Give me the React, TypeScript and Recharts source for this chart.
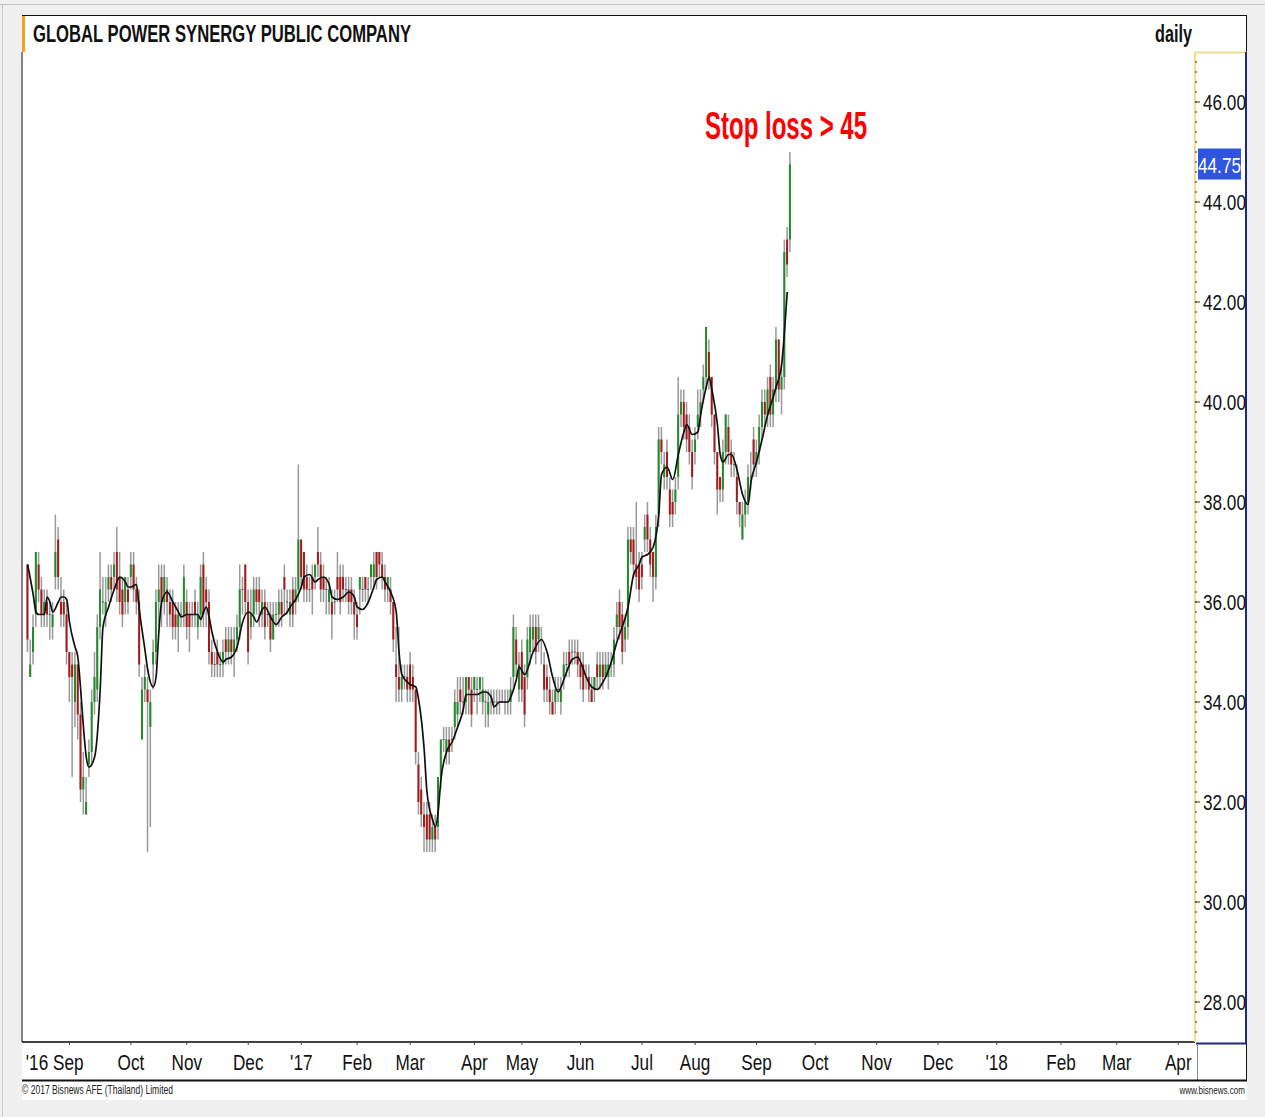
import React from "react";
import { ComposedChart, Bar, Line, XAxis, YAxis, ReferenceLine, ReferenceDot } from "recharts";

// trading-day index of the first candle (mid Aug 2016)
const firstDay = 2;

const open = [
  36.75, 34.5, 35, 35.75, 36.75, 36.25, 35.75, 36, 35.75, 35.5,
  36.5, 37.25, 36, 36, 35.75, 35, 34.75, 34, 34.75, 33.75,
  32.25, 31.75, 32.75, 33, 34, 34.25, 35.5, 36, 35.75, 36.25,
  36.5, 36.5, 37, 36.5, 36.25, 36, 36.25, 36.5, 36.75, 36.25,
  36, 33.25, 34.25, 34.25, 33.5, 34.75, 35, 36, 36.5, 36,
  36.25, 36, 36, 35.75, 35.5, 35.75, 35.75, 36, 35.75, 35.75,
  36, 35.5, 35.75, 36.75, 36.25, 36, 35, 34.75, 35, 34.75,
  34.75, 35.25, 35, 35.25, 35, 35.25, 35.5, 36.25, 36.75, 36,
  35.5, 35.75, 36.25, 36.25, 35.75, 36, 35.75, 35.75, 35.25, 35.75,
  35.75, 36, 36.5, 36, 35.75, 36.25, 36, 36.25, 37.25, 37,
  36.5, 36.25, 36.5, 36.5, 37, 36.75, 36.5, 36.25, 36, 36,
  36, 36.5, 36.5, 36.5, 36.25, 36.25, 36.25, 36, 35.75, 36.25,
  36.25, 36.5, 36.25, 36.5, 36.5, 37, 37, 36.75, 36.5, 36.25,
  36.25, 36, 34.75, 34.5, 34.25, 34.5, 34.5, 34.75, 34.5, 34.25,
  32.75, 32.25, 31.75, 31.75, 31.75, 31.25, 31.5, 31.5, 32.5, 33.25,
  33, 33.25, 33.25, 33.5, 33.75, 34.25, 34, 34, 34.5, 34.25,
  34.25, 34.25, 34.25, 34, 34, 33.75, 34, 34, 34, 34,
  34, 34, 34, 34, 34.5, 35.25, 34.25, 35, 34.5, 34.5,
  35, 35.25, 35.5, 35.25, 35.25, 34.75, 34.5, 34.25, 34, 34,
  34.25, 34, 34.5, 34.75, 35, 35, 35, 35, 34.75, 34.75,
  34.5, 34.5, 34.25, 34.25, 34.75, 34.5, 34.75, 34.5, 34.5, 34.75,
  34.75, 35.5, 36, 35.75, 35.25, 35.5, 37.25, 37.25, 36.75, 36.75,
  36.75, 37.25, 37.75, 37.25, 37, 36.5, 37.75, 39.25, 38.5, 39,
  38.25, 38, 38, 38.5, 39.75, 40, 39.75, 39.5, 39, 39,
  39.5, 39.75, 40.25, 40.5, 41, 40.5, 39.75, 39, 38.5, 38.25,
  39, 39.5, 39, 38.75, 38.5, 38, 37.25, 37.75, 38, 38.5,
  39.25, 38.75, 39, 39.5, 40, 39.75, 40.5, 39.75, 40.25, 41.25,
  40.25, 40.5, 43.25, 43.25,
];

const high = [
  36.75, 35.25, 35.75, 37, 37, 36.5, 36.25, 36.25, 36, 36,
  37.75, 37.5, 36.5, 36.25, 36, 35, 35, 35, 34.75, 34,
  33, 32.5, 33.25, 34.25, 35, 35.75, 37, 36.5, 36.5, 36.75,
  36.75, 37, 37.5, 37, 36.5, 36.5, 36.5, 37, 37, 36.5,
  36.25, 34.5, 34.75, 34.5, 34.25, 35.25, 36.25, 36.75, 36.75, 36.75,
  36.5, 36.25, 36.25, 36, 36, 36, 36.75, 36.25, 36, 36,
  36.25, 36, 36.75, 37, 36.5, 36.25, 35.25, 35, 35.25, 35,
  35.25, 35.5, 35.5, 35.5, 35.5, 35.75, 36.75, 36.5, 36.75, 36.25,
  36.25, 36.5, 36.5, 36.5, 36.25, 36.25, 36, 36, 36, 36,
  36.25, 36.25, 36.75, 36.25, 36.25, 36.5, 36.5, 38.75, 37.25, 37,
  36.75, 36.5, 36.75, 36.75, 37.5, 37, 36.75, 36.5, 36.5, 36.25,
  36.25, 37, 36.75, 36.75, 36.5, 36.5, 36.5, 36.25, 36, 36.5,
  36.5, 36.5, 36.5, 36.75, 37, 37, 37, 37, 36.75, 36.5,
  36.5, 36, 35.5, 35.5, 34.75, 34.75, 34.75, 35, 34.75, 34.25,
  33, 32.5, 32, 32, 32, 31.75, 31.75, 32.5, 33.25, 33.5,
  33.5, 33.5, 33.5, 34.25, 34.5, 34.5, 34.5, 34.5, 34.5, 34.5,
  34.5, 34.5, 34.5, 34.5, 34.25, 34.25, 34.25, 34.25, 34.25, 34.25,
  34.25, 34.25, 34.25, 34.5, 35.75, 35.5, 35, 35.25, 34.75, 35.5,
  35.75, 35.75, 35.75, 35.75, 35.5, 35, 34.75, 34.5, 34.25, 34.5,
  34.5, 34.5, 35, 35, 35.25, 35.25, 35.25, 35.25, 35, 35,
  34.75, 34.75, 34.5, 34.5, 35, 35, 35, 35, 35, 35,
  35.5, 36, 36.25, 36, 35.75, 37.5, 37.5, 37.5, 38, 37,
  37, 37.75, 38, 37.5, 37, 37.75, 39.5, 39.5, 39, 39.25,
  38.5, 38.25, 38.5, 40.5, 40.25, 40.25, 40, 39.75, 39.25, 39.5,
  40.25, 40.25, 40.75, 41.5, 41.25, 40.5, 39.75, 39, 38.5, 39.25,
  39.75, 39.75, 39.25, 39, 38.75, 38, 38, 38.25, 38.75, 39,
  39.5, 39.25, 39.75, 40.25, 40.25, 40.5, 40.75, 40.5, 41.5, 41.25,
  40.75, 43.25, 43.5, 45,
];

const low = [
  35, 34.5, 34.75, 35.5, 36, 35.5, 35.5, 35.5, 35.25, 35.25,
  36.25, 36.25, 35.5, 35.5, 34.75, 34, 32.5, 33.5, 33.25, 32,
  31.75, 31.75, 32.5, 32.75, 33.75, 34, 35.25, 35.75, 35.5, 36,
  36, 36.25, 36, 35.75, 35.5, 35.75, 35.75, 36.25, 36, 35.75,
  34.5, 33.25, 34, 31, 31.5, 34.25, 34.75, 35.5, 35.5, 35.75,
  35.5, 35.5, 35.25, 35.25, 35, 35.5, 35.5, 35.25, 35, 35.5,
  35.5, 35.25, 35.5, 35.5, 35.5, 34.75, 34.5, 34.5, 34.5, 34.5,
  34.5, 34.75, 34.75, 34.75, 34.5, 35, 35.25, 35.75, 35.75, 34.75,
  35.25, 35.5, 35.75, 35.5, 35.5, 35.25, 35.5, 35, 35.25, 35.5,
  35.5, 35.5, 35.75, 35.75, 35.5, 35.5, 35.75, 36, 36.25, 36,
  36, 36, 35.75, 36.25, 36.5, 36, 36, 35.75, 35.75, 35.25,
  35.75, 36, 35.75, 36, 36, 35.75, 35.75, 35.25, 35.25, 35.75,
  36, 36, 36, 36.25, 36.25, 36.25, 36.5, 36.25, 36, 36,
  35.75, 35, 34, 34, 34, 34.25, 34, 34, 34, 32.75,
  31.75, 31.5, 31, 31, 31, 31, 31, 31.25, 32.25, 33,
  32.75, 32.75, 33, 33.25, 33.5, 33.75, 33.75, 33.75, 33.75, 33.5,
  34, 33.75, 34, 33.75, 33.5, 33.5, 33.75, 33.75, 33.75, 33.75,
  34, 33.75, 33.75, 33.75, 34.25, 34.5, 34, 34, 33.5, 34.25,
  34.75, 35, 34.75, 35, 34.75, 34, 34, 33.75, 33.75, 33.75,
  34, 33.75, 34.25, 34.5, 34.5, 34.75, 34.75, 34.5, 34.25, 34,
  34.25, 34, 34, 34, 34.25, 34.25, 34.25, 34.5, 34.25, 34.5,
  34.5, 35.25, 35.25, 34.75, 35, 35.25, 36.75, 36.5, 36.25, 36,
  36.25, 37, 37, 36.5, 36, 36.25, 37.5, 38.75, 38.25, 38.25,
  37.5, 37.5, 37.75, 38.25, 39.5, 39.25, 39, 38.75, 38.25, 38.75,
  39.25, 39.5, 40, 40.25, 40.25, 39.5, 38.75, 37.75, 38, 38,
  38.75, 38.75, 38.5, 38.5, 37.75, 37.5, 37.25, 37.5, 37.75, 38.25,
  38.5, 38.5, 38.75, 39.25, 39.5, 39.5, 39.5, 39.5, 40, 40,
  39.75, 40.25, 42.5, 43,
];

const close = [
  35.25, 34.75, 35.5, 37, 36.25, 35.75, 36, 35.75, 35.75, 35.75,
  37, 36.5, 35.75, 35.75, 35, 34.5, 34.5, 34.75, 33.75, 32.25,
  32.5, 32, 33, 34, 34.5, 35.5, 36.25, 36, 36, 36.5,
  36.25, 36.75, 36.25, 36, 35.75, 36.5, 36, 36.75, 36.25, 36,
  34.75, 34.25, 34.5, 34, 34, 35, 36, 36.25, 36, 36.5,
  36, 35.75, 35.5, 35.5, 35.75, 35.75, 36.5, 35.5, 35.5, 35.75,
  35.75, 35.75, 36.5, 35.75, 36, 35, 34.75, 34.75, 34.75, 34.75,
  35, 35, 35.25, 35, 35.25, 35.5, 36.25, 36.25, 36, 35,
  35.75, 36.25, 36, 36, 36, 35.5, 35.75, 35.25, 35.75, 35.75,
  36, 35.75, 36.25, 36, 36, 35.75, 36.25, 37.25, 36.5, 36.25,
  36.25, 36.25, 36.25, 36.75, 36.75, 36.25, 36.25, 36.25, 36.25, 35.75,
  36, 36.25, 36, 36.25, 36.25, 36, 36, 35.75, 35.5, 36.5,
  36.25, 36.25, 36.25, 36.75, 36.75, 36.5, 36.75, 36.5, 36.25, 36.5,
  36, 35.25, 34.5, 34.25, 34.5, 34.5, 34.25, 34.25, 34.25, 33,
  32, 31.75, 31.5, 31.25, 31.25, 31.5, 31.25, 32.5, 33.25, 33.25,
  33.25, 33, 33.25, 34, 34, 34, 34, 34.5, 34.25, 33.75,
  34.5, 34.25, 34.5, 34.25, 34, 34, 34, 34, 34, 34,
  34, 34, 34, 34.25, 35.5, 34.75, 34.75, 34.25, 33.75, 35.25,
  35.5, 35.5, 35, 35.5, 35.25, 34.25, 34.25, 34, 33.75, 34.25,
  34.25, 34.25, 34.75, 34.75, 34.75, 35, 35, 34.75, 34.5, 34.25,
  34.5, 34.25, 34, 34.5, 34.5, 34.75, 34.5, 34.75, 34.75, 34.75,
  35.25, 35.75, 35.5, 35, 35.5, 37.25, 37, 36.75, 36.5, 36.25,
  36.5, 37.5, 37.25, 36.75, 36.5, 37.5, 39.25, 39, 38.75, 38.5,
  37.75, 37.75, 38.25, 39.75, 40, 39.5, 39.25, 39, 38.5, 39.25,
  39.75, 40, 40.5, 41.5, 40.5, 39.75, 39, 38.25, 38.25, 39,
  39.75, 39, 38.75, 38.75, 38, 37.75, 37.75, 38, 38.5, 38.5,
  38.75, 39, 39.5, 40, 39.75, 40.25, 39.75, 40.25, 41.25, 40.25,
  40.5, 43, 42.75, 44.75,
];

// moving average
const maDay = [
  2, 4, 5, 6, 8, 9, 10, 11, 13, 14, 15, 16, 17, 19, 20, 21, 22, 23, 24, 26,
  28, 29, 31, 33, 35, 37, 38, 39, 41, 42, 44, 45, 47, 48, 49, 50, 52, 54, 56, 57,
  59, 61, 63, 64, 65, 66, 67, 68, 70, 72, 73, 75, 77, 79, 81, 83, 84, 86, 87, 89,
  91, 93, 95, 96, 98, 100, 101, 103, 105, 106, 108, 110, 111, 113, 115, 117, 119, 120, 122, 124,
  126, 127, 129, 130, 132, 134, 135, 136, 139, 141, 142, 144, 145, 147, 148, 149, 150, 152, 154, 156,
  158, 159, 161, 163, 165, 166, 168, 169, 171, 174, 175, 177, 178, 180, 183, 186, 188, 190, 192, 193,
  195, 197, 199, 200, 202, 204, 206, 208, 209, 211, 213, 217, 219, 221, 222, 224, 226, 228, 229, 231,
  233, 235, 237, 238, 240, 242, 243, 245, 246, 247, 249, 250, 251, 253, 254, 256, 258, 260, 261, 263,
  265, 267, 269, 270, 272, 273, 274,
];
const maValue = [
  36.75, 36.15, 35.8, 35.75, 35.75, 36.1, 36.0, 35.8, 36.0, 36.1, 36.1, 36.05, 35.6, 35.1, 34.9, 34.25, 33.5, 32.9, 32.7, 32.9,
  34.25, 35.5, 35.9, 36.25, 36.5, 36.4, 36.3, 36.3, 36.35, 35.85, 35.05, 34.65, 34.3, 34.5, 35.4, 36.0, 36.2, 36.0, 35.8, 35.7,
  35.75, 35.75, 35.75, 35.65, 35.8, 35.9, 35.7, 35.4, 35.0, 34.8, 34.85, 34.9, 35.1, 35.6, 35.8, 35.7, 35.6, 35.85, 35.9, 35.7,
  35.55, 35.7, 35.8, 35.9, 36.05, 36.3, 36.5, 36.55, 36.4, 36.45, 36.5, 36.35, 36.1, 36.05, 36.1, 36.2, 36.1, 35.9, 35.85, 36.0,
  36.3, 36.45, 36.5, 36.4, 36.2, 35.8, 35.0, 34.55, 34.35, 34.3, 34.05, 33.05, 32.2, 31.65, 31.5, 31.8, 32.45, 33.0, 33.2, 33.5,
  33.85, 34.15, 34.15, 34.15, 34.2, 34.2, 34.1, 33.9, 34.0, 34.0, 34.1, 34.45, 34.7, 34.55, 35.0, 35.25, 35.0, 34.5, 34.2, 34.3,
  34.6, 34.85, 34.9, 34.8, 34.5, 34.3, 34.25, 34.4, 34.5, 34.8, 35.2, 35.9, 36.55, 36.75, 36.9, 36.95, 37.1, 37.75, 38.55, 38.7,
  38.45, 38.95, 39.4, 39.55, 39.35, 39.4, 39.75, 40.3, 40.5, 40.25, 39.55, 38.95, 38.8, 38.95, 38.95, 38.65, 38.15, 37.95, 38.4, 38.8,
  39.25, 39.75, 40.1, 40.3, 40.75, 41.4, 42.2,
];

// x axis: first trading day of each month, and its label
const monthStart = [17, 39, 59, 81, 100, 120, 139, 162, 179, 200, 222, 241, 263, 284, 306, 328, 349, 372, 392, 414];
const monthLabel = ["'16 Sep", "Oct", "Nov", "Dec", "'17", "Feb", "Mar", "Apr", "May", "Jun", "Jul", "Aug", "Sep", "Oct", "Nov", "Dec", "'18", "Feb", "Mar", "Apr"];
const priceLabels = [28, 30, 32, 34, 36, 38, 40, 42, 44, 46];

const title = "GLOBAL POWER SYNERGY PUBLIC COMPANY";
const period = "daily";
const stopLossNote = "Stop loss > 45";
const copyright = "© 2017 Bisnews AFE (Thailand) Limited";
const site = "www.bisnews.com";

const FONT = "'Liberation Sans Narrow', 'Arial Narrow', 'Liberation Sans', Arial, sans-serif";
const SQUEEZE = 0.78;

const lastDay = firstDay + close.length - 1;
const lastClose = close[close.length - 1];
const lastHigh = high[high.length - 1];

const maByDay = new Map(maDay.map((d, k) => [d, maValue[k]]));
const rows = close.map((c, k) => ({
  day: firstDay + k,
  open: open[k],
  high: high[k],
  low: low[k],
  close: c,
  range: [low[k], high[k]],
  ma: maByDay.get(firstDay + k),
}));

// minor ticks every 0.20 on the price scale
const minorTicks: number[] = [];
for (let v = 274; v <= 468; v += 2) minorTicks.push(v / 10);

// condensed text: the narrow face is not installed, so squeeze a regular one
function Narrow({ x, y, anchor = "start", size = 22, fill = "#111", weight = "normal", squeeze = SQUEEZE, children }: any) {
  return (
    <text
      transform={`translate(${x} ${y}) scale(${squeeze} 1)`}
      textAnchor={anchor}
      fontFamily={FONT}
      fontSize={size}
      fontWeight={weight}
      fill={fill}
    >
      {children}
    </text>
  );
}

function Candle(props: any) {
  const { x, y, width, height, payload } = props;
  if (x == null || y == null || !payload) return null;
  const h = Math.abs(height || 0);
  const top = Math.min(y, y + (height || 0));
  const cx = x + width / 2;
  const span = payload.high - payload.low;
  const k = span > 0 ? h / span : 0;
  const py = (v: number) => top + (payload.high - v) * k;
  const bTop = py(Math.max(payload.open, payload.close));
  const bBot = py(Math.min(payload.open, payload.close));
  const up = payload.close > payload.open;
  const down = payload.close < payload.open;
  return (
    <g>
      <line x1={cx} x2={cx} y1={top} y2={top + h} stroke="#999" strokeWidth={1.5} />
      {up || down ? (
        <rect x={cx - 1} y={bTop} width={2} height={Math.max(1, bBot - bTop)} fill={up ? "#23892a" : "#a11b1b"} />
      ) : (
        <line x1={cx - 1} x2={cx + 1} y1={bTop} y2={bTop} stroke="#555" strokeWidth={1} />
      )}
    </g>
  );
}

function MonthTick(props: any) {
  const { x, y, payload } = props;
  const label = monthLabel[monthStart.indexOf(payload.value)] ?? "";
  const withYear = label.includes(" ");
  return (
    <Narrow x={withYear ? x + 14 : x} y={y + 25} anchor={withYear ? "end" : "middle"}>
      {label}
    </Narrow>
  );
}

function PriceTick(props: any) {
  const { x, y, payload } = props;
  const v = Math.round(payload.value * 100) / 100;
  if (!priceLabels.includes(v)) return null;
  return (
    <g>
      <line x1={x - 8} x2={x - 3} y1={y} y2={y} stroke="#333" />
      <Narrow x={x} y={y + 8}>{v.toFixed(2)}</Narrow>
    </g>
  );
}

function PriceTag(props: any) {
  const vb = props.viewBox || {};
  const x = vb.x + vb.width + 3;
  const y = vb.y;
  return (
    <g>
      <rect x={x} y={y - 16} width={43} height={31} fill="#2f55df" />
      <Narrow x={x + 21.5} y={y + 8} anchor="middle" fill="#fff">
        {lastClose.toFixed(2)}
      </Narrow>
    </g>
  );
}

function StopLossLabel(props: any) {
  const vb = props.viewBox || {};
  return (
    <text x={vb.x - 4} y={vb.y - 13} textAnchor="middle" fill="#ff0000" fontFamily={FONT} fontWeight="bold" fontSize={38} textLength={162} lengthAdjust="spacingAndGlyphs">
      {stopLossNote}
    </text>
  );
}

export default function App() {
  return (
    <div style={{ position: "absolute", left: 0, top: 0, width: 1265, height: 1117, overflow: "hidden", background: "#f0f0f0" }}>
      <svg width={1265} height={1117} style={{ position: "absolute", left: 0, top: 0 }}>
        <line x1={0} x2={1265} y1={4.5} y2={4.5} stroke="#c6c6c6" />
        <line x1={2.5} x2={2.5} y1={4} y2={1117} stroke="#c6c6c6" />
        <rect x={22} y={15} width={1225} height={1085} fill="#fff" />
        <line x1={22} x2={1247} y1={15.5} y2={15.5} stroke="#111" />
        <line x1={1246.5} x2={1246.5} y1={15} y2={52} stroke="#111" />
        <rect x={22} y={16} width={3} height={36} fill="#f7a21b" />
        <text x={33} y={42} fontFamily={FONT} fontWeight="bold" fontSize={24} fill="#111" textLength={378} lengthAdjust="spacingAndGlyphs">
          {title}
        </text>
        <text x={1192} y={42} textAnchor="end" fontFamily={FONT} fontWeight="bold" fontSize={23} fill="#111" textLength={37} lengthAdjust="spacingAndGlyphs">
          {period}
        </text>
        <line x1={1195} x2={1247} y1={52.5} y2={52.5} stroke="#f3dc8f" strokeWidth={2} />
        <line x1={1246} x2={1246} y1={52} y2={1044} stroke="#1c2a7a" strokeWidth={2} />
        <line x1={1196} x2={1247} y1={1043.5} y2={1043.5} stroke="#1c2a7a" strokeWidth={2} />
        <line x1={1197.5} x2={1197.5} y1={1044} y2={1080} stroke="#888" />
        <line x1={1246.5} x2={1246.5} y1={1044} y2={1080} stroke="#111" />
        <line x1={22} x2={1247} y1={1080.5} y2={1080.5} stroke="#111" strokeWidth={2} />
        <text x={22} y={1094} fontFamily={FONT} fontSize={12} fill="#222" textLength={151} lengthAdjust="spacingAndGlyphs">
          {copyright}
        </text>
        <Narrow x={1245} y={1094} anchor="end" size={11} fill="#222" squeeze={0.73}>
          {site}
        </Narrow>
      </svg>
      <div style={{ position: "absolute", left: 0, top: 0 }}>
        <ComposedChart width={1265} height={1117} data={rows} margin={{ top: 52, right: 18, bottom: 37, left: 19 }}>
          <XAxis
            dataKey="day"
            type="number"
            domain={[0, 420]}
            allowDataOverflow
            ticks={monthStart}
            interval={0}
            height={38}
            tickSize={3}
            tickMargin={0}
            axisLine={{ stroke: "#444", strokeWidth: 2 }}
            tickLine={{ stroke: "#444" }}
            tick={<MonthTick />}
          />
          <YAxis
            yAxisId="left"
            orientation="left"
            width={3}
            domain={[27.2, 47]}
            allowDataOverflow
            ticks={minorTicks}
            interval={0}
            tickSize={3}
            tick={false}
            axisLine={{ stroke: "#111" }}
            tickLine={{ stroke: "#111" }}
          />
          <YAxis
            yAxisId="right"
            orientation="right"
            width={52}
            domain={[27.2, 47]}
            allowDataOverflow
            ticks={minorTicks}
            interval={0}
            tickSize={2}
            tickMargin={6}
            axisLine={{ stroke: "#f3dc8f", strokeWidth: 2 }}
            tickLine={{ stroke: "#333" }}
            tick={<PriceTick />}
          />
          <Bar yAxisId="right" dataKey="range" barSize={3} shape={<Candle />} isAnimationActive={false} />
          <Line
            yAxisId="right"
            dataKey="ma"
            type="monotone"
            connectNulls
            stroke="#111"
            strokeWidth={1.7}
            dot={false}
            activeDot={false}
            isAnimationActive={false}
          />
          <ReferenceLine yAxisId="right" y={lastClose} stroke="none" ifOverflow="visible" label={<PriceTag />} />
          <ReferenceDot yAxisId="right" x={lastDay} y={lastHigh} r={0} fill="none" stroke="none" ifOverflow="visible" label={<StopLossLabel />} />
        </ComposedChart>
      </div>
    </div>
  );
}
